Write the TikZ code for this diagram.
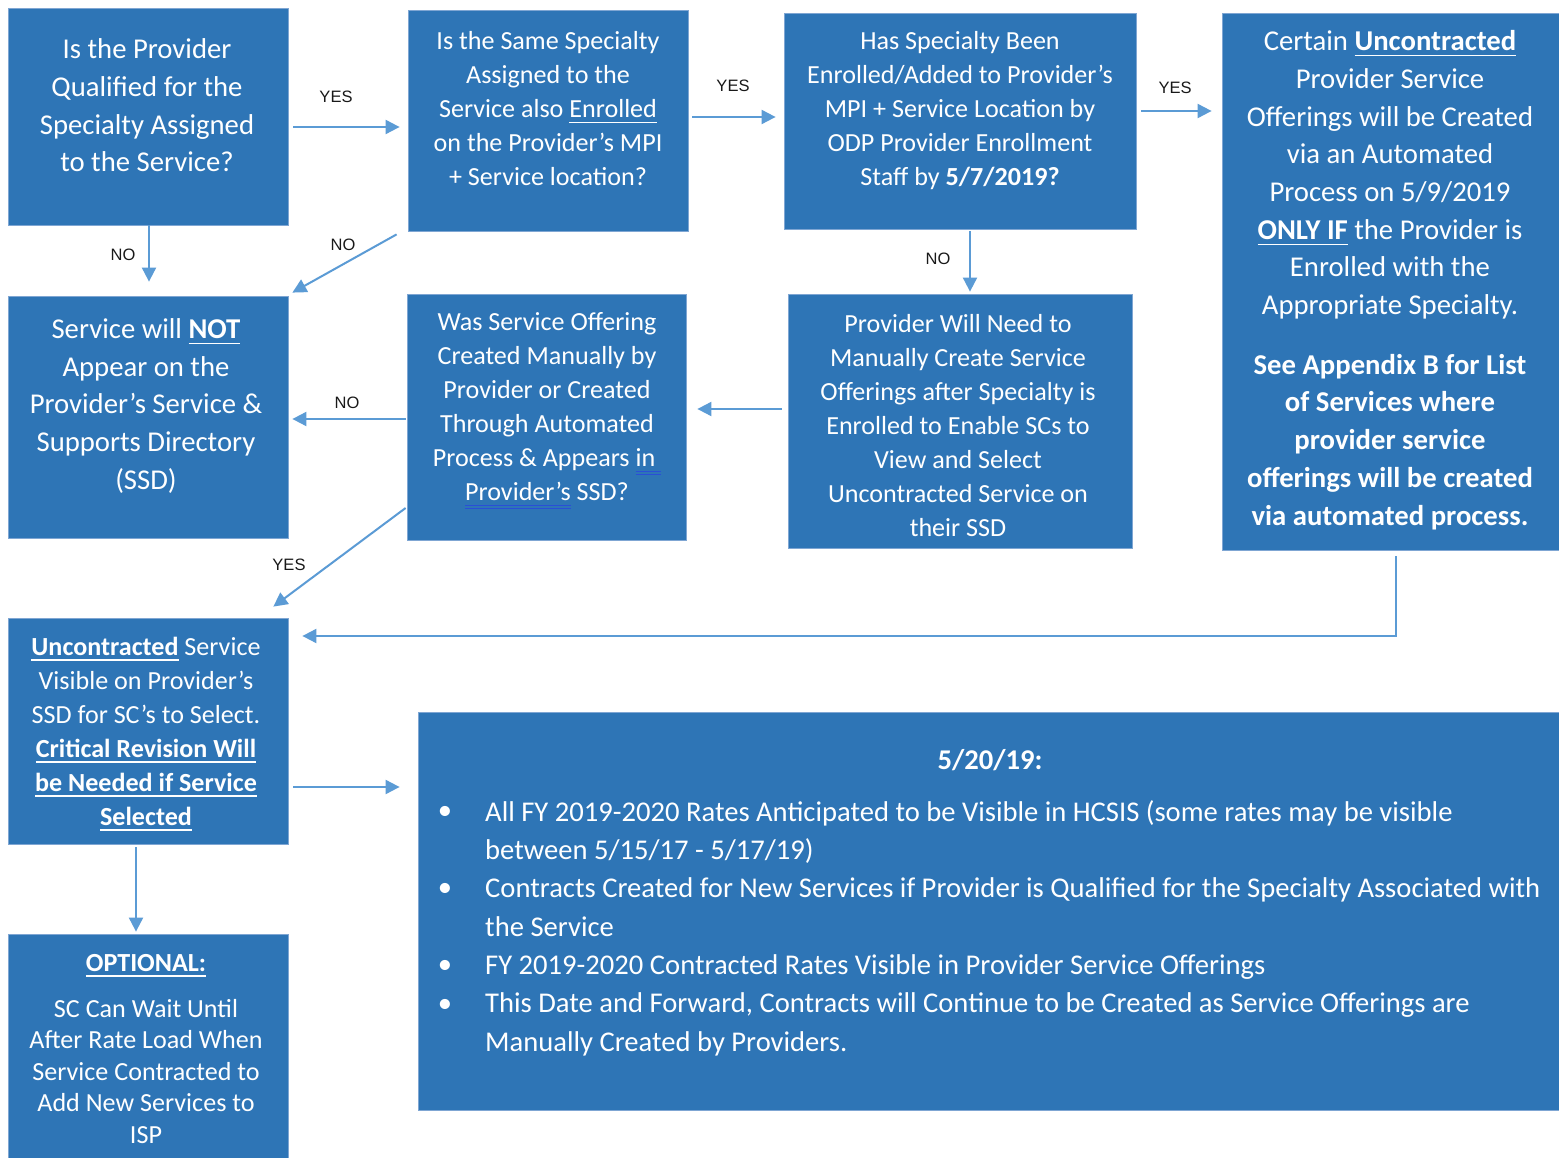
\documentclass[tikz,border=0pt]{standalone}
\usepackage{fontspec}
\setmainfont{Carlito}
\newfontfamily\lblfont{Liberation Sans}
\usetikzlibrary{arrows.meta,calc}
\definecolor{boxblue}{HTML}{2E75B6}
\definecolor{boxedge}{HTML}{7FA6D3}
\definecolor{arrowblue}{HTML}{5B9BD5}
\definecolor{ulblue}{HTML}{2A4FD6}
\newcommand\ulbar[1]{\setbox0=\hbox{#1}\rlap{\rule[-0.2em]{\wd0}{1.3pt}}\box0\relax}
\newcommand\bluedu[1]{\setbox0=\hbox{#1}\rlap{\textcolor{ulblue}{\rule[-0.18em]{\wd0}{0.9pt}}}\rlap{\textcolor{ulblue}{\rule[-0.31em]{\wd0}{0.9pt}}}\box0\relax}
\tikzset{
  box/.style={rectangle, draw=boxedge, line width=0.8pt, fill=boxblue, inner sep=0pt},
  txt/.style={text=white, align=center, inner sep=0pt},
  big/.style={font=\fontsize{28.7}{37.7}\selectfont},
  mid/.style={font=\fontsize{26.1}{34}\selectfont},
  arr/.style={draw=arrowblue, line width=2pt, -{Triangle[length=14pt,width=14pt]}},
  lbl/.style={font=\lblfont\fontsize{16.5}{18}\selectfont, text=black!90, inner sep=0pt},
  jtext/.style={text=white, inner sep=0pt, font=\fontsize{28.6}{38.3}\selectfont}
}
\begin{document}
\begin{tikzpicture}[x=1pt,y=-1pt]
\useasboundingbox (0,0) rectangle (1559,1158);
\fill[white] (0,0) rectangle (1559,1158);

% boxes
\node[box, minimum width=280pt, minimum height=217pt] (A) at (148,116.5) {};
\node[box, minimum width=280pt, minimum height=221pt] (B) at (548,120.5) {};
\node[box, minimum width=352pt, minimum height=216pt] (C) at (960,121) {};
\node[box, minimum width=337pt, minimum height=537pt] (D) at (1390.5,281.5) {};
\node[box, minimum width=280pt, minimum height=242pt] (E) at (148,417) {};
\node[box, minimum width=279pt, minimum height=246pt] (F) at (546.5,417) {};
\node[box, minimum width=344pt, minimum height=254pt] (G) at (960,421) {};
\node[box, minimum width=280pt, minimum height=226pt] (H) at (148,731) {};
\node[box, minimum width=280pt, minimum height=224pt] (I) at (148,1046) {};
\node[box, minimum width=1141pt, minimum height=398pt] (J) at (988.5,911) {};

% texts
\node[txt,big] (At) at (147,105.5) {Is the Provider\\Qualified for the\\Specialty Assigned\\to the Service?};
\node[txt,mid] (Bt) at (548,109) {Is the Same Specialty\\Assigned to the\\Service also \ulbar{Enrolled}\\on the Provider’s MPI\\+ Service location?};
\node[txt,mid] (Ct) at (960,111) {Has Specialty Been\\Enrolled/Added to Provider’s\\MPI + Service Location by\\ODP Provider Enrollment\\Staff by \textbf{5/7/2019?}};
\node[txt,big] (Dt) at (1390,280) {Certain \textbf{\ulbar{Uncontracted}}\\Provider Service\\Offerings will be Created\\via an Automated\\Process on 5/9/2019\\\textbf{\ulbar{ONLY IF}} the Provider is\\Enrolled with the\\Appropriate Specialty.\\[22pt]\textbf{See Appendix B for List}\\\textbf{of Services where}\\\textbf{provider service}\\\textbf{offerings will be created}\\\textbf{via automated process.}};
\node[txt,big] (Et) at (146,406) {Service will \textbf{\ulbar{NOT}}\\Appear on the\\Provider’s Service \&\\Supports Directory\\(SSD)};
\node[txt,mid] (Ft) at (547,411) {Was Service Offering\\Created Manually by\\Provider or Created\\Through Automated\\Process \& Appears \bluedu{in\ }\\\bluedu{Provider’s} SSD?};
\node[txt,mid] (Gt) at (958,426) {Provider Will Need to\\Manually Create Service\\Offerings after Specialty is\\Enrolled to Enable SCs to\\View and Select\\Uncontracted Service on\\their SSD};
\node[txt,mid] (Ht) at (146,734) {\textbf{\ulbar{Uncontracted}} Service\\Visible on Provider’s\\SSD for SC’s to Select.\\\textbf{\ulbar{Critical Revision Will}}\\\textbf{\ulbar{be Needed if Service}}\\\textbf{\ulbar{Selected}}};
\node[txt,mid,font=\fontsize{26.1}{31.5}\selectfont] (It) at (146,1049) {\textbf{\ulbar{OPTIONAL:}}\\[14.5pt]SC Can Wait Until\\After Rate Load When\\Service Contracted to\\Add New Services to\\ISP};
\node[jtext, font=\bfseries\fontsize{28.6}{38.3}\selectfont] (Jt) at (990,760) {5/20/19:};
\node[jtext, align=left, anchor=west] (Jl) at (485,928) {All FY 2019-2020 Rates Anticipated to be Visible in HCSIS (some rates may be visible\\between 5/15/17 - 5/17/19)\\Contracts Created for New Services if Provider is Qualified for the Specialty Associated with\\the Service\\FY 2019-2020 Contracted Rates Visible in Provider Service Offerings\\This Date and Forward, Contracts will Continue to be Created as Service Offerings are\\Manually Created by Providers.};
\node[jtext] (b1) at (445,813) {•};
\node[jtext] (b2) at (445,890) {•};
\node[jtext] (b3) at (445,967) {•};
\node[jtext] (b4) at (445,1006) {•};

% connectors
\draw[arr] ($(A.east)+(5,10.5)$) -- ($(B.west)+(-8,6.5)$);
\draw[arr] ($(B.east)+(4,-3.5)$) -- ($(C.west)+(-8,-4)$);
\draw[arr] ($(C.east)+(5,-10)$) -- ($(D.west)+(-10,-170.5)$);
\draw[arr] ($(A.south)+(1,0)$) -- ($(E.north)+(1,-14)$);
\draw[arr] ($(B.south west)+(-11,3)$) -- ($(E.north east)+(4,-3)$);
\draw[arr] ($(C.south)+(10,2)$) -- ($(G.north)+(10,-2)$);
\draw[arr] ($(G.west)+(-6,-12)$) -- ($(F.east)+(11,-8)$);
\draw[arr] ($(F.west)+(-1,2)$) -- ($(E.east)+(4,2)$);
\draw[arr] ($(F.west)+(-1,91)$) -- ($(H.north east)+(-15,-11)$);
\draw[arr] ($(D.south)+(5.5,6)$) |- ($(H.east)+(14,-95)$);
\draw[arr] ($(H.east)+(5,56)$) -- ($(J.west)+(-18,-124)$);
\draw[arr] ($(H.south)+(-12,3)$) -- ($(I.north)+(-12,-2)$);

% labels
\node[lbl] (l1) at (336,97) {YES};
\node[lbl] (l2) at (733,86) {YES};
\node[lbl] (l3) at (1175,88) {YES};
\node[lbl] (l4) at (123,255) {NO};
\node[lbl] (l5) at (343,245) {NO};
\node[lbl] (l6) at (938,259) {NO};
\node[lbl] (l7) at (347,403) {NO};
\node[lbl] (l8) at (289,565) {YES};
\end{tikzpicture}
\end{document}
